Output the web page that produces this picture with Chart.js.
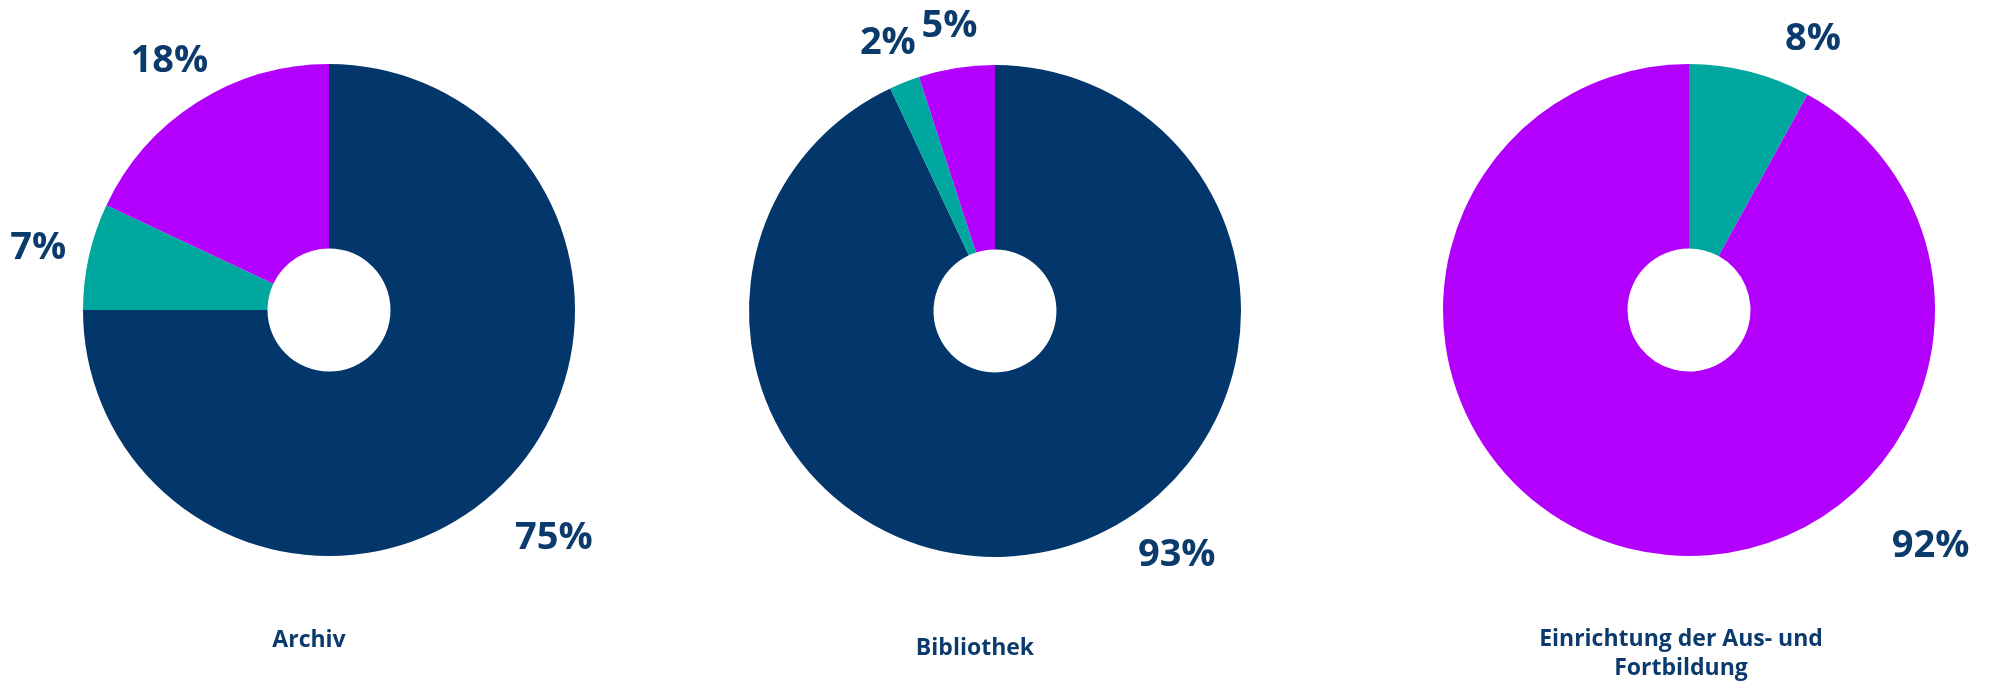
<!DOCTYPE html>
<html>
<head>
<meta charset="utf-8">
<script src="https://cdn.jsdelivr.net/npm/chart.js@4/dist/chart.umd.min.js"></script>
<style>
  html, body { margin: 0; padding: 0; width: 1997px; height: 686px; overflow: hidden; background: #ffffff; }
  .cell { position: absolute; top: 0; width: 666px; height: 686px; }
</style>
</head>
<body>
<div class="cell" id="cell0"><canvas id="chart0" width="666" height="686"></canvas></div>
<div class="cell" id="cell1"><canvas id="chart1" width="666" height="686"></canvas></div>
<div class="cell" id="cell2"><canvas id="chart2" width="666" height="686"></canvas></div>
<script>
// ---- data ----
const categories = [['Archiv'], ['Bibliothek'], ['Einrichtung der Aus- und', 'Fortbildung']];
const segmentNames = ['Anteil A', 'Anteil B', 'Anteil C'];
const archivValues = [75, 7, 18];
const bibliothekValues = [93, 2, 5];
const ausbildungValues = [0, 8, 92];
const allValues = [archivValues, bibliothekValues, ausbildungValues];

// ---- styling / layout ----
const COLORS = ['#03366A', '#00A79E', '#B300FC'];
const TEXT = '#0B3A6C';
const FONT = '"Open Sans", Lato, sans-serif';
const R = 246;
const HALF = 333;
const layouts = [
  { cx: 329, cy: 310, labelDx: -20, labelY: 647, bigAngle: 135, bigGap: 72, smallGap: 52, smallShift: 0 },
  { cx: 995, cy: 311, labelDx: -20, labelY: 655, bigAngle: 143, bigGap: 56, smallGap: 45, smallShift: 0 },
  { cx: 1689, cy: 310, labelDx: -8, labelY: 646, bigAngle: 134, bigGap: 90, smallGap: 54, smallShift: 10 }
];

const outLabels = {
  id: 'outLabels',
  afterDatasetsDraw(chart, args, opts) {
    const ctx = chart.ctx;
    const meta = chart.getDatasetMeta(0);
    const data = chart.data.datasets[0].data;
    const size = 38;
    ctx.save();
    ctx.font = '700 ' + size + 'px ' + FONT;
    ctx.fillStyle = TEXT;
    ctx.textAlign = 'center';
    ctx.textBaseline = 'alphabetic';
    meta.data.forEach((arc, i) => {
      const v = data[i];
      if (!v) return;
      const p = arc.getProps(['x', 'y', 'startAngle', 'endAngle', 'outerRadius'], true);
      const frac = (p.endAngle - p.startAngle) / (2 * Math.PI);
      let theta, dist;
      if (frac > 0.5) {
        theta = opts.bigAngle * Math.PI / 180;
        dist = p.outerRadius + opts.bigGap;
      } else {
        theta = (p.startAngle + p.endAngle) / 2 + Math.PI / 2 + opts.smallShift * Math.PI / 180;
        dist = p.outerRadius + opts.smallGap;
      }
      const x = p.x + dist * Math.sin(theta);
      const y = p.y - dist * Math.cos(theta);
      ctx.fillText(v + '%', x, y + size * 0.36);
    });
    // category caption
    ctx.font = '700 23px ' + FONT;
    const cx = (chart.chartArea.left + chart.chartArea.right) / 2 + opts.labelDx;
    opts.caption.forEach((line, k) => {
      ctx.fillText(line, cx, opts.labelY + k * 29);
    });
    ctx.restore();
  }
};

function build(i) {
  const L = layouts[i];
  const cell = document.getElementById('cell' + i);
  cell.style.left = (L.cx - HALF) + 'px';
  const ctx = document.getElementById('chart' + i);
  new Chart(ctx, {
    type: 'doughnut',
    data: {
      labels: segmentNames,
      datasets: [{
        data: allValues[i],
        backgroundColor: COLORS,
        borderWidth: 0,
        hoverOffset: 0,
        offset: 0
      }]
    },
    options: {
      responsive: false,
      animation: false,
      events: [],
      cutout: '25%',
      layout: {
        padding: { left: HALF - R, right: HALF - R, top: L.cy - R, bottom: 686 - L.cy - R }
      },
      plugins: {
        legend: { display: false },
        tooltip: { enabled: false },
        outLabels: {
          caption: categories[i],
          labelDx: L.labelDx,
          labelY: L.labelY,
          bigAngle: L.bigAngle,
          bigGap: L.bigGap,
          smallGap: L.smallGap,
          smallShift: L.smallShift
        }
      }
    },
    plugins: [outLabels]
  });
}

function start() { [0, 1, 2].forEach(build); }
if (document.fonts && document.fonts.load) {
  Promise.all([document.fonts.load('700 38px "Open Sans"'), document.fonts.load('700 23px "Open Sans"')])
    .then(start, start);
} else { start(); }
</script>
</body>
</html>
